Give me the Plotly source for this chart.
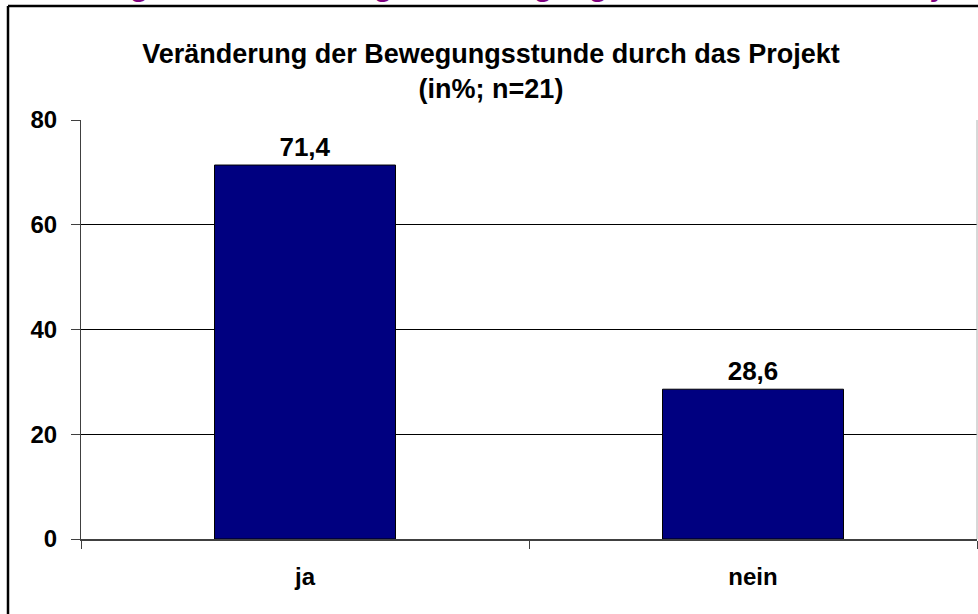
import plotly.graph_objects as go

categories = ["ja", "nein"]
values = [71.4, 28.6]
y_ticks = [0, 20, 40, 60, 80]
title_text = "Veränderung der Bewegungsstunde durch das Projekt<br>(in%; n=21)"
heading_text = "Abbildung 12: Veränderung der Bewegungsstunde durch das Projekt"

FONT = "Liberation Sans, Arial, sans-serif"
W, H = 978, 614
L, R, T, B = 81, 1, 120, 75
PW, PH = W - L - R, H - T - B

fig = go.Figure()
fig.add_trace(go.Bar(
    x=categories, y=values,
    marker=dict(color="#000080", line=dict(color="#000000", width=1)),
    width=0.404,
    texttemplate="%{y:.1f}", textposition="outside",
    textfont=dict(family=FONT, size=26, color="#000000", weight="bold"),
    cliponaxis=False,
    hoverinfo="skip",
))

def px_x(p):
    return (p - L) / PW

def px_y(p):
    return (H - B - p) / PH

fig.update_layout(
    width=W, height=H,
    margin=dict(l=L, r=R, t=T, b=B, autoexpand=False),
    paper_bgcolor="#ffffff", plot_bgcolor="#ffffff",
    separators=",.",
    showlegend=False,
    title=dict(
        text=title_text,
        font=dict(family=FONT, size=27, color="#000000", weight="bold"),
        x=491 / W, xanchor="center", xref="container",
        y=1 - 63 / H, yanchor="top", yref="container",
    ),
    xaxis=dict(
        type="category",
        tickson="boundaries",
        ticks="outside", ticklen=8, tickcolor="#404040", tickwidth=1,
        showline=True, linecolor="#404040", linewidth=2,
        showgrid=False,
        tickfont=dict(family=FONT, size=24, color="#000000", weight="bold"),
        ticklabelstandoff=15,
    ),
    yaxis=dict(
        range=[0, 80], tickvals=y_ticks,
        ticks="outside", ticklen=9, tickcolor="#404040", tickwidth=1,
        showline=True, linecolor="#404040", linewidth=1,
        showgrid=True, gridcolor="#000000", gridwidth=1,
        zeroline=False,
        tickfont=dict(family=FONT, size=24, color="#000000", weight="bold"),
        ticklabelstandoff=9,
    ),
    annotations=[dict(
        text=heading_text, xref="paper", yref="paper",
        x=px_x(-1), y=px_y(4), xanchor="left", yanchor="bottom",
        showarrow=False,
        font=dict(family=FONT, size=30, color="#800080", weight="bold", style="italic"),
    )],
    shapes=[
        dict(type="line", xref="paper", yref="paper",
             x0=px_x(8), x1=px_x(1100), y0=px_y(6), y1=px_y(6),
             line=dict(color="#000000", width=2.5)),
        dict(type="line", xref="paper", yref="paper",
             x0=px_x(8), x1=px_x(8), y0=px_y(6), y1=px_y(700),
             line=dict(color="#000000", width=2.5)),
        dict(type="line", xref="paper", yref="paper",
             x0=1, x1=1, y0=0, y1=1,
             line=dict(color="#b0b0b0", width=1)),
    ],
)

fig.write_html(
    "out.html",
    config={"displayModeBar": False},
    post_script="document.body.style.margin='0';document.body.style.overflow='hidden';",
)
